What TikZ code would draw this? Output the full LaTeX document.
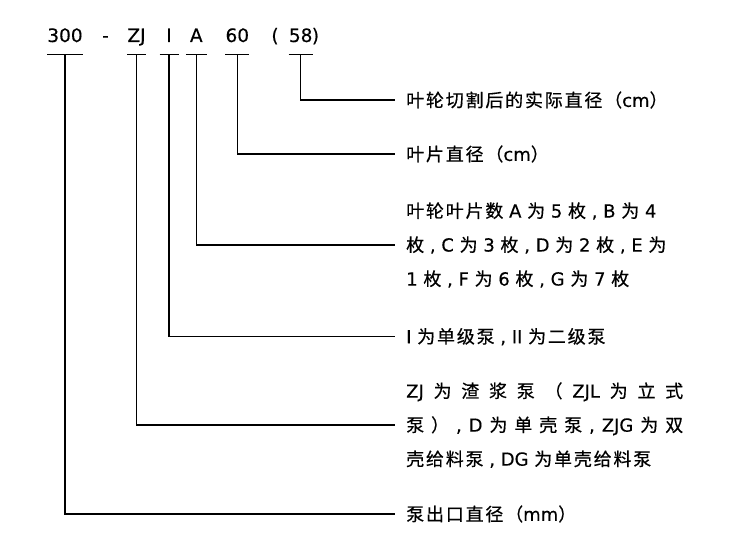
\documentclass[tikz,border=0pt]{standalone}
\usepackage{fontspec}
\setmainfont{DejaVu Sans}[FakeBold=0.3]
\newfontfamily\cjk[LetterSpace=10,FakeBold=0.5]{Noto Sans CJK SC}
\newcommand\zh[1]{{\cjk #1}}
\newcommand\cmm{\ ,\ }
\begin{document}
\begin{tikzpicture}[x=1pt,y=-1pt,
  code/.style={inner sep=0pt, text depth=12pt, anchor=base, font=\fontsize{18.5}{22}\selectfont},
  desc/.style={anchor=west, inner xsep=11pt, inner ysep=0pt, align=left, font=\fontsize{18}{34}\selectfont},
  wire/.style={line width=1.1pt, black}]
\fill[white] (0,0) rectangle (734,548);
\useasboundingbox (0,0) rectangle (734,548);
% top code
\node[code, minimum width=33pt] (n300) at (65,42) {300};
\node[code] (ndash) at (105.5,42) {-};
\node[code, minimum width=16pt] (nzj) at (136.5,42) {ZJ};
\node[code, minimum width=18.6pt] (ni) at (169,42) {I};
\node[code, minimum width=20.7pt] (na) at (196.3,42) {A};
\node[code, minimum width=22.7pt] (n60) at (237.3,42) {60};
\node[code] (nlp) at (275,42) {(};
\node[code, minimum width=22.7pt] (n58) at (300.7,42) {58};
\node[code] (nrp) at (315.5,42) {)};
% labels
\node[desc] (l58) at (395,100) {\zh{叶轮切割后的实际直径（}cm\zh{）}};
\node[desc] (l60) at (395,154) {\zh{叶片直径（}cm\zh{）}};
\node[desc] (la) at (395,245) {\zh{叶轮叶片数} A \zh{为} 5 \zh{枚}\cmm B \zh{为} 4\\
  \zh{枚}\cmm C \zh{为} 3 \zh{枚}\cmm D \zh{为} 2 \zh{枚}\cmm E \zh{为}\\
  1 \zh{枚}\cmm F \zh{为} 6 \zh{枚}\cmm G \zh{为} 7 \zh{枚}};
\node[desc] (li) at (395,336.7) {I \zh{为单级泵}\cmm II \zh{为二级泵}};
\node[desc] (lzj) at (395,425) {\makebox[277pt][s]{ZJ\hfil\zh{为}\hfil\zh{渣}\hfil\zh{浆}\hfil\zh{泵}\hfil\zh{（}\hfil ZJL\hfil\zh{为}\hfil\zh{立}\hfil\zh{式}}\\
  \makebox[277pt][s]{\zh{泵}\hfil\zh{）}\hfil,\hfil D\hfil\zh{为}\hfil\zh{单}\hfil\zh{壳}\hfil\zh{泵}\hfil,\hfil ZJG\hfil\zh{为}\hfil\zh{双}}\\
  \zh{壳给料泵}\cmm DG \zh{为单壳给料泵}};
\node[desc] (l300) at (395,514) {\zh{泵出口直径（}mm\zh{）}};
% connectors
\foreach \n/\l in {n300/l300, nzj/lzj, ni/li, na/la, n60/l60, n58/l58}{
  \draw[wire] (\n.south west) -- (\n.south east);
  \draw[wire] (\n.south) |- (\l.west);
}
\end{tikzpicture}
\end{document}
